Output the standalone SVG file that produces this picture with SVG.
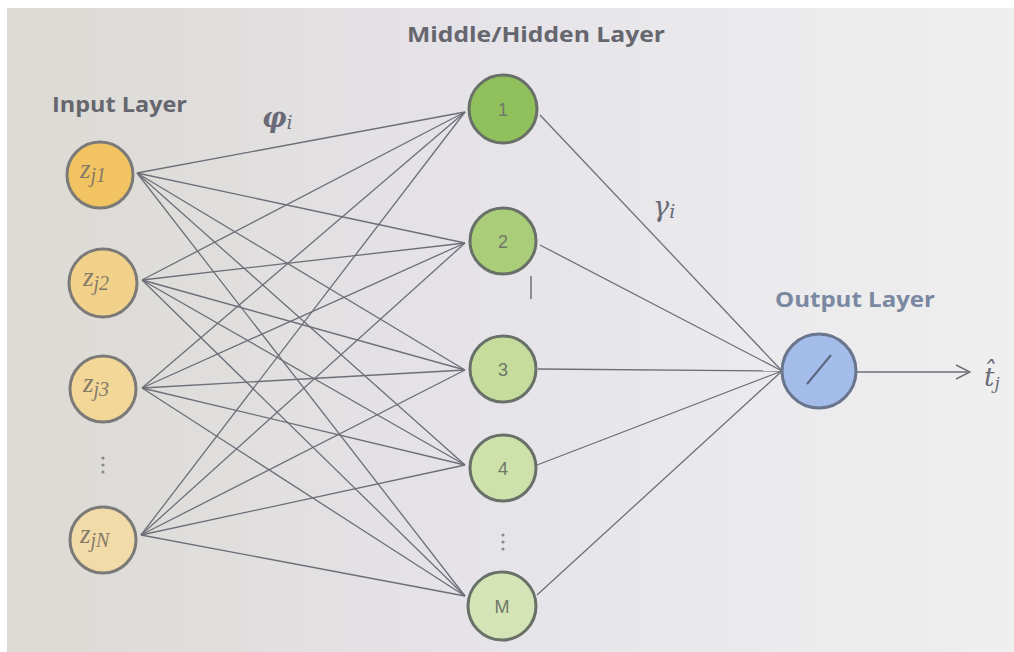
<svg xmlns="http://www.w3.org/2000/svg" width="1014" height="652" viewBox="0 0 1014 652">
<defs>
<linearGradient id="bg" x1="0" y1="0" x2="1" y2="0">
<stop offset="0" stop-color="#dcdad3"/>
<stop offset="0.45" stop-color="#e5e3e8"/>
<stop offset="1" stop-color="#efefef"/>
</linearGradient>
<marker id="arr" viewBox="0 0 16 16" refX="15" refY="8" markerWidth="16" markerHeight="16" markerUnits="userSpaceOnUse" orient="auto">
<polyline points="1,1 15,8 1,15" fill="none" stroke="#6e6e78" stroke-width="1.4"/>
</marker>
<style>
.title{font-family:"Open Sans","Liberation Sans",sans-serif;font-weight:bold;font-size:22px;fill:#66666e}
.outt{fill:#7a88a2}
.c{stroke:#6e6e78;stroke-width:1.3;fill:none}
.inp{stroke:#7c7a78;stroke-width:3}
.hid{stroke:#687068;stroke-width:3}
.out{stroke:#68758c;stroke-width:3;fill:#a3bcea}
.zl{font-family:"Liberation Serif","DejaVu Serif",serif;font-style:italic;font-size:27px;fill:#857a68}
.zs{font-size:20px}
.hl{font-family:"Liberation Sans",sans-serif;font-size:18px;fill:#6f7868;text-anchor:middle}
.gr{font-family:"DejaVu Serif","Liberation Serif",serif;font-style:italic;fill:#6a6a78}
.dot{fill:#8a8a8a}
</style>
</defs>
<rect x="0" y="0" width="1014" height="652" fill="#ffffff"/>
<rect x="7" y="8" width="1007" height="644" fill="url(#bg)"/>

<text class="title" x="52" y="112" textLength="135" lengthAdjust="spacingAndGlyphs">Input Layer</text>
<text class="title" x="407" y="42" textLength="258" lengthAdjust="spacingAndGlyphs">Middle/Hidden Layer</text>
<text class="title outt" x="775" y="307" textLength="160" lengthAdjust="spacingAndGlyphs">Output Layer</text>
<text class="gr" x="262" y="127" font-size="27" font-weight="bold">φ<tspan font-size="19" dy="2" font-weight="normal">i</tspan></text>
<text class="gr" x="653" y="216" font-size="27">γ<tspan font-size="19" dy="2">i</tspan></text>

<g id="connectors">
<line class="c" x1="137" y1="173" x2="465" y2="112"/>
<line class="c" x1="137" y1="173" x2="465" y2="243"/>
<line class="c" x1="137" y1="173" x2="465" y2="370"/>
<line class="c" x1="137" y1="173" x2="465" y2="465"/>
<line class="c" x1="137" y1="173" x2="465" y2="596"/>
<line class="c" x1="142" y1="280" x2="465" y2="112"/>
<line class="c" x1="142" y1="280" x2="465" y2="243"/>
<line class="c" x1="142" y1="280" x2="465" y2="370"/>
<line class="c" x1="142" y1="280" x2="465" y2="465"/>
<line class="c" x1="142" y1="280" x2="465" y2="596"/>
<line class="c" x1="142" y1="388" x2="465" y2="112"/>
<line class="c" x1="142" y1="388" x2="465" y2="243"/>
<line class="c" x1="142" y1="388" x2="465" y2="370"/>
<line class="c" x1="142" y1="388" x2="465" y2="465"/>
<line class="c" x1="142" y1="388" x2="465" y2="596"/>
<line class="c" x1="141" y1="535" x2="465" y2="112"/>
<line class="c" x1="141" y1="535" x2="465" y2="243"/>
<line class="c" x1="141" y1="535" x2="465" y2="370"/>
<line class="c" x1="141" y1="535" x2="465" y2="465"/>
<line class="c" x1="141" y1="535" x2="465" y2="596"/>
<line class="c" x1="540" y1="115" x2="782" y2="371"/>
<line class="c" x1="540" y1="245" x2="782" y2="371"/>
<line class="c" x1="538" y1="369" x2="782" y2="371"/>
<line class="c" x1="537" y1="465" x2="782" y2="371"/>
<line class="c" x1="537" y1="595" x2="782" y2="371"/>
<line class="c" x1="856" y1="372" x2="970" y2="372" marker-end="url(#arr)"/>
</g>

<g id="in1"><circle class="inp" cx="100" cy="175" r="33" fill="#f1c361"/><text class="zl" x="80" y="178">z<tspan class="zs" dy="4">j1</tspan></text></g>
<g id="in2"><circle class="inp" cx="103" cy="283" r="34" fill="#f2d28a"/><text class="zl" x="83" y="286">z<tspan class="zs" dy="4">j2</tspan></text></g>
<g id="in3"><circle class="inp" cx="103" cy="389" r="33" fill="#f2d799"/><text class="zl" x="83" y="392">z<tspan class="zs" dy="4">j3</tspan></text></g>
<g id="in-dots"><circle class="dot" cx="103" cy="458" r="1.6"/><circle class="dot" cx="103" cy="465" r="1.6"/><circle class="dot" cx="103" cy="472" r="1.6"/></g>
<g id="inN"><circle class="inp" cx="103" cy="540" r="33" fill="#f1dba8"/><text class="zl" x="80" y="543">z<tspan class="zs" dy="4">jN</tspan></text></g>

<g id="h1"><circle class="hid" cx="503" cy="109" r="34" fill="#8fc05c"/><text class="hl" x="503" y="116">1</text></g>
<g id="h2"><circle class="hid" cx="503" cy="241" r="33" fill="#aacd7a"/><text class="hl" x="503" y="248">2</text></g>
<g id="h3"><circle class="hid" cx="503" cy="369" r="33" fill="#c5dc9d"/><text class="hl" x="503" y="376">3</text></g>
<g id="h4"><circle class="hid" cx="503" cy="468" r="33" fill="#cfe1ab"/><text class="hl" x="503" y="475">4</text></g>
<g id="h-dots"><circle class="dot" cx="503" cy="535" r="1.6"/><circle class="dot" cx="503" cy="542" r="1.6"/><circle class="dot" cx="503" cy="549" r="1.6"/></g>
<g id="hM"><circle class="hid" cx="502" cy="606" r="34" fill="#d5e4b6"/><text class="hl" x="502" y="613">M</text></g>
<line x1="531" y1="276" x2="531" y2="299" stroke="#707078" stroke-width="1.5"/>

<g id="out"><circle class="out" cx="819" cy="371" r="37"/><line x1="807" y1="384" x2="831" y2="355" stroke="#5a6680" stroke-width="2"/></g>
<text class="gr" x="984" y="386" font-size="26">t̂<tspan font-size="17" dy="3">j</tspan></text>
</svg>
